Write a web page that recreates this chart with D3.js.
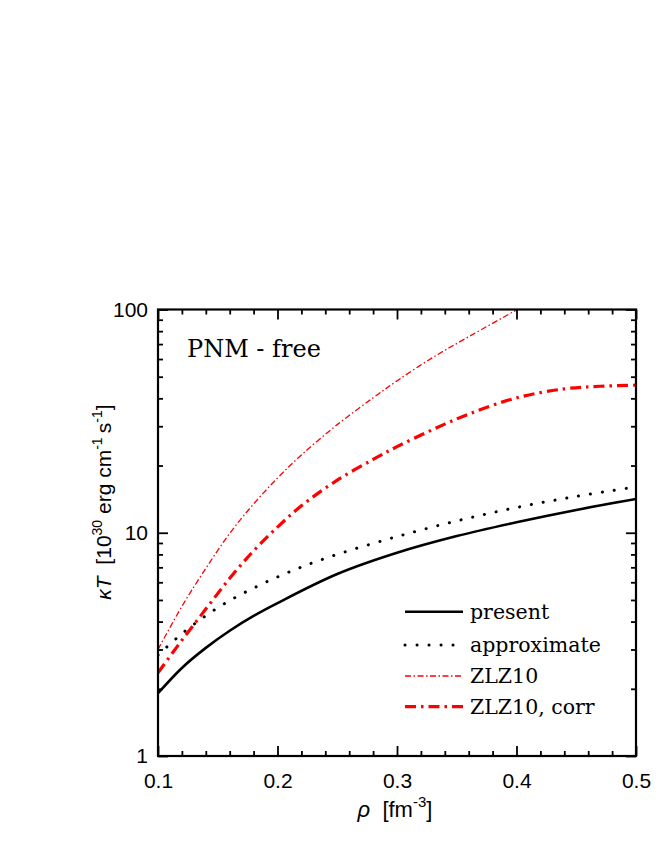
<!DOCTYPE html>
<html><head><meta charset="utf-8">
<script src="https://cdn.jsdelivr.net/npm/d3@7"></script>
<style>
body{margin:0;background:#fff;}
svg{display:block;}
</style></head>
<body>
<svg id="chart" width="664" height="860"></svg>
<script>
// ---- data ----
const rhoPresent = [0.10,0.12,0.14,0.16,0.18,0.20,0.25,0.30,0.35,0.40,0.45,0.50];
const kTPresent  = [1.91,2.48,3.05,3.64,4.24,4.84,6.53,8.13,9.66,11.14,12.65,14.16];

const rhoApprox = [0.10,0.12,0.14,0.16,0.18,0.20,0.22,0.25,0.30,0.35,0.40,0.45,0.50];
const kTApprox  = [2.83,3.53,4.25,4.97,5.65,6.34,7.02,8.0,9.61,11.3,12.97,14.55,16.05];

const rhoZLZ = [0.10,0.12,0.14,0.16,0.18,0.20,0.22,0.25,0.28,0.30,0.33,0.36,0.40,0.42];
const kTZLZ  = [3.0,4.68,6.92,9.93,13.46,17.58,22.3,30.5,40.2,47.9,61.0,75.5,99.5,114];

const rhoCorr = [0.10,0.12,0.14,0.16,0.18,0.20,0.22,0.25,0.28,0.30,0.33,0.36,0.40,0.44,0.47,0.50];
const kTCorr  = [2.36,3.3,4.55,6.25,8.3,10.6,13.2,17.2,21.3,24.3,29.0,34.0,40.2,44.1,45.3,45.8];

const xMajor = [0.1,0.2,0.3,0.4,0.5];
const xMinor = [0.12,0.14,0.16,0.18,0.22,0.24,0.26,0.28,0.32,0.34,0.36,0.38,0.42,0.44,0.46,0.48];
const yMajor = [1,10,100];
const yMinor = [2,3,4,5,6,7,8,9,20,30,40,50,60,70,80,90];

const seriesNames = ["present","approximate","ZLZ10","ZLZ10, corr"];

// ---- layout ----
const svg = d3.select("#chart");
const L = 158, R = 636, T = 309.5, B = 756;
const x = d3.scaleLinear().domain([0.1,0.5]).range([L,R]);
const y = d3.scaleLog().domain([1,100]).range([B,T]);

const sans = "'Liberation Sans', Arial, sans-serif";
const serif = "'DejaVu Serif', serif";

svg.append("defs").append("clipPath").attr("id","clip")
  .append("rect").attr("x",L).attr("y",T).attr("width",R-L).attr("height",B-T);

const styles = [
  {stroke:"#000", width:2.6, dash:null, cap:"butt"},
  {stroke:"#000", width:3, dash:"0.1,11.9", cap:"round"},
  {stroke:"#ff0000", width:1.3, dash:"6,2.5,1.5,2.5", cap:"butt"},
  {stroke:"#ff0000", width:3.2, dash:"11,5,2.5,5", cap:"butt"}
];
const data = [
  d3.zip(rhoPresent,kTPresent),
  d3.zip(rhoApprox,kTApprox),
  d3.zip(rhoZLZ,kTZLZ),
  d3.zip(rhoCorr,kTCorr)
];

const line = d3.line().x(d=>x(d[0])).y(d=>y(d[1])).curve(d3.curveCatmullRom.alpha(0.5));
const g = svg.append("g").attr("clip-path","url(#clip)");
data.forEach((d,i)=>{
  const s = styles[i];
  g.append("path").attr("d",line(d)).attr("fill","none")
   .attr("stroke",s.stroke).attr("stroke-width",s.width)
   .attr("stroke-dasharray",s.dash).attr("stroke-linecap",s.cap);
});

// ---- axes ----
function styleAxis(sel){
  sel.select(".domain").remove();
  sel.selectAll(".tick line").attr("stroke","#000").attr("stroke-width",1.8);
}
const fmtX = d3.format(".1f");
svg.append("g").attr("transform",`translate(0,${B})`)
  .call(d3.axisBottom(x).tickValues(xMajor).tickSize(-10).tickPadding(17).tickFormat(fmtX))
  .call(styleAxis)
  .selectAll("text").attr("font-family",sans).attr("font-size",21).attr("fill","#000");
svg.append("g").attr("transform",`translate(0,${B})`)
  .call(d3.axisBottom(x).tickValues(xMinor).tickSize(-5).tickFormat(""))
  .call(styleAxis);
svg.append("g").attr("transform",`translate(0,${T})`)
  .call(d3.axisTop(x).tickValues(xMajor).tickSize(-10).tickFormat(""))
  .call(styleAxis);
svg.append("g").attr("transform",`translate(0,${T})`)
  .call(d3.axisTop(x).tickValues(xMinor).tickSize(-5).tickFormat(""))
  .call(styleAxis);

svg.append("g").attr("transform",`translate(${L},0)`)
  .call(d3.axisLeft(y).tickValues(yMajor).tickSize(-10).tickPadding(10).tickFormat(d3.format("d")))
  .call(styleAxis)
  .selectAll("text").attr("font-family",sans).attr("font-size",21).attr("fill","#000");
svg.append("g").attr("transform",`translate(${L},0)`)
  .call(d3.axisLeft(y).tickValues(yMinor).tickSize(-5).tickFormat(""))
  .call(styleAxis);
svg.append("g").attr("transform",`translate(${R},0)`)
  .call(d3.axisRight(y).tickValues(yMajor).tickSize(-10).tickFormat(""))
  .call(styleAxis);
svg.append("g").attr("transform",`translate(${R},0)`)
  .call(d3.axisRight(y).tickValues(yMinor).tickSize(-5).tickFormat(""))
  .call(styleAxis);

// frame
svg.append("rect").attr("x",L).attr("y",T).attr("width",R-L).attr("height",B-T)
  .attr("fill","none").attr("stroke","#000").attr("stroke-width",2.2);

// ---- labels ----
const xl = svg.append("text").attr("x",395).attr("y",817).attr("text-anchor","middle")
  .attr("font-family",sans).attr("font-size",22).attr("fill","#000");
xl.append("tspan").attr("font-style","italic").text("ρ");
xl.append("tspan").text("\u00a0 [fm");
xl.append("tspan").attr("font-size",15).attr("dy",-10).text("-3");
xl.append("tspan").attr("dy",10).text("]");

const yl = svg.append("text").attr("transform","translate(111,502) rotate(-90)")
  .attr("text-anchor","middle").attr("font-family",sans).attr("font-size",21).attr("fill","#000");
yl.append("tspan").attr("font-style","italic").text("κT");
yl.append("tspan").text("\u00a0 [10");
yl.append("tspan").attr("font-size",14).attr("dy",-9).text("30");
yl.append("tspan").attr("dy",9).text(" erg cm");
yl.append("tspan").attr("font-size",14).attr("dy",-9).text("-1");
yl.append("tspan").attr("dy",9).text("\u2009s");
yl.append("tspan").attr("font-size",14).attr("dy",-9).text("-1");
yl.append("tspan").attr("dy",9).text("]");

svg.append("text").attr("x",187).attr("y",357).attr("font-family",serif)
  .attr("font-size",24).attr("fill","#000").text("PNM - free");

// ---- legend ----
const legY = [611.7,645,676,706.7];
seriesNames.forEach((n,i)=>{
  const s = styles[i];
  svg.append("line").attr("x1",405).attr("x2",463).attr("y1",legY[i]).attr("y2",legY[i])
    .attr("stroke",s.stroke).attr("stroke-width",s.width)
    .attr("stroke-dasharray",s.dash).attr("stroke-linecap",s.cap);
  svg.append("text").attr("x",470).attr("y",legY[i]+7).attr("font-family",serif)
    .attr("font-size",20.5).attr("fill","#000").text(n);
});
</script>
</body></html>
